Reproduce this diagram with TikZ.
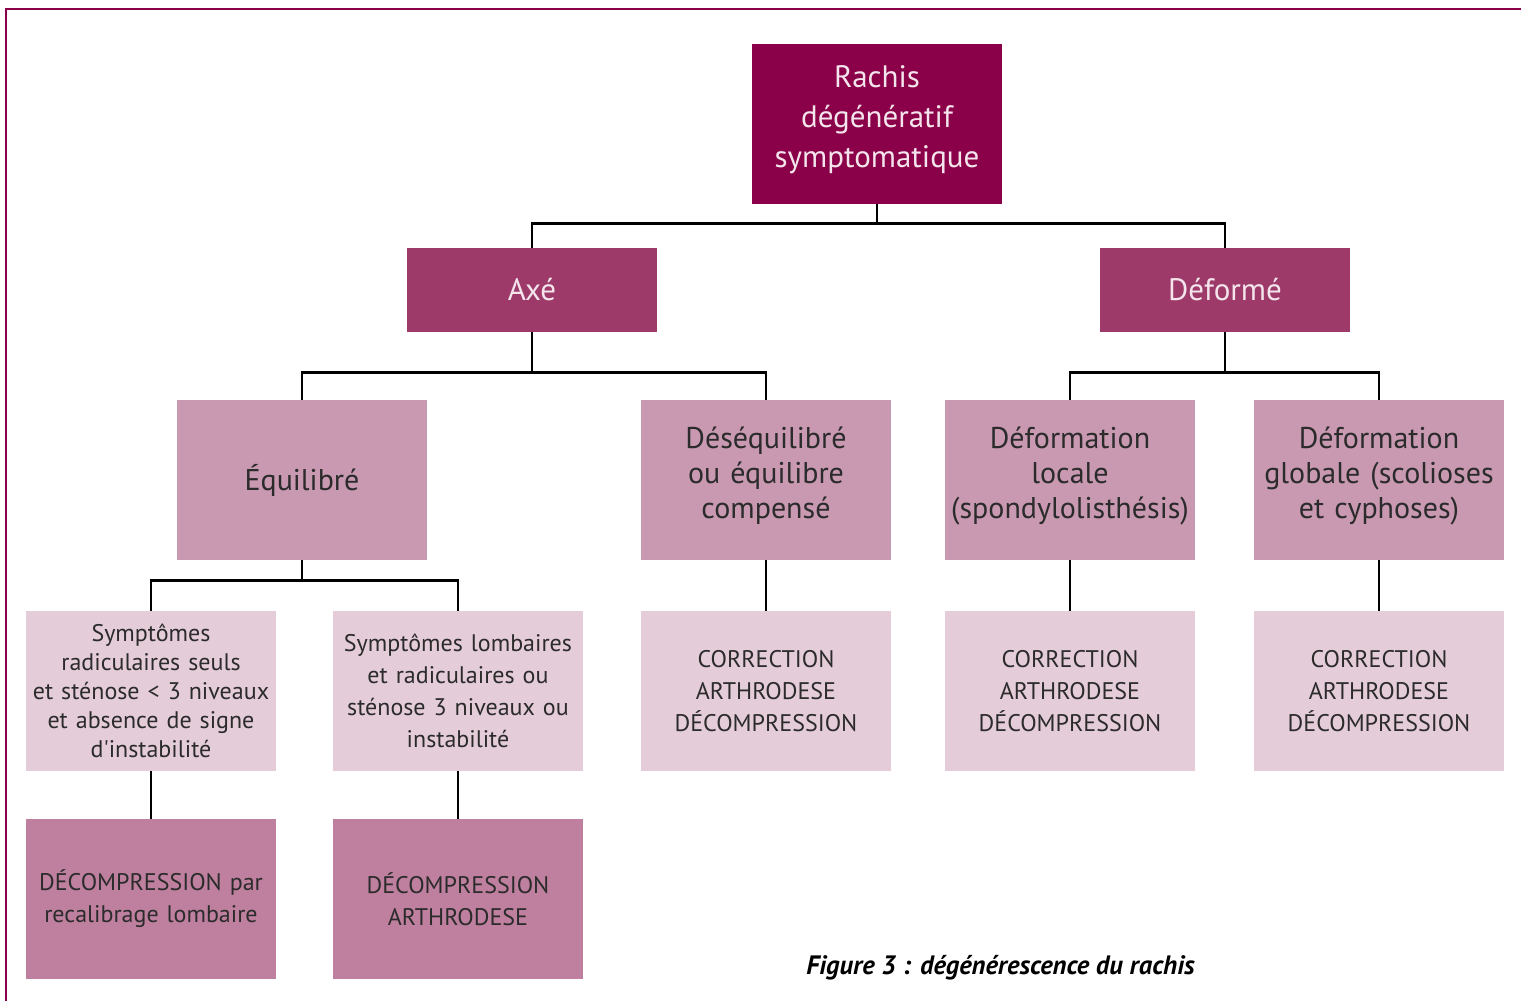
\documentclass[tikz,border=0pt]{standalone}
\usepackage{fontspec}
\setmainfont{PT Sans}
\usepackage{tikz}

\definecolor{rachis}{HTML}{8A0049}
\definecolor{niveau1}{HTML}{9E3A6A}
\definecolor{niveau2}{HTML}{C999B2}
\definecolor{niveau3}{HTML}{E5CCD9}
\definecolor{niveau4}{HTML}{BF809F}
\definecolor{clair}{HTML}{F4E4EC}
\definecolor{texte}{HTML}{2B2B2B}
\newcommand{\espacebas}{\par\vspace*{4pt}}

\begin{document}
\begin{tikzpicture}[x=0.5pt, y=-0.5pt, every node/.style={inner sep=2pt, align=center},
  boite/.style={minimum width=125pt, minimum height=80pt, text width=121pt},
  haut/.style={boite, execute at end node=\espacebas},
  lien/.style={line width=1.4pt, black}]
  \useasboundingbox (0,0) rectangle (1521,1001);
  \draw[rachis, line width=1.2pt] (1521,9) -- (6,9) -- (6,1001);

  \node[haut, fill=rachis, text=clair, font=\fontsize{15.5}{20}\selectfont] (root) at (877,124) {Rachis\\dégénératif\\symptomatique};
  \node[boite, minimum height=42pt, fill=niveau1, text=clair, font=\fontsize{15.5}{20}\selectfont] (axe) at (532,290) {Axé};
  \node[boite, minimum height=42pt, fill=niveau1, text=clair, font=\fontsize{15.5}{20}\selectfont] (deforme) at (1225,290) {Déformé};

  \node[boite, fill=niveau2, text=texte, font=\fontsize{15}{17.5}\selectfont] (equi) at (302,480) {Équilibré};
  \node[haut, fill=niveau2, text=texte, font=\fontsize{15}{17.5}\selectfont] (deseq) at (766,480) {Déséquilibré\\ou équilibre\\compensé};
  \node[haut, fill=niveau2, text=texte, font=\fontsize{15}{17.5}\selectfont] (locale) at (1070,480) {Déformation\\locale\\(spondylolisthésis)};
  \node[haut, fill=niveau2, text=texte, font=\fontsize{15}{17.5}\selectfont] (globale) at (1379,480) {Déformation\\globale (scolioses\\et cyphoses)};

  \node[boite, fill=niveau3, text=texte, font=\fontsize{12}{14.5}\selectfont] (sympt1) at (151,691) {Symptômes\\radiculaires seuls\\et sténose < 3 niveaux\\et absence de signe\\d\textquotesingle instabilité};
  \node[boite, fill=niveau3, text=texte, font=\fontsize{12}{16}\selectfont] (sympt2) at (458,691) {Symptômes lombaires\\et radiculaires ou\\sténose 3 niveaux ou\\instabilité};
  \node[boite, fill=niveau3, text=texte, font=\fontsize{12}{16}\selectfont] (corr1) at (766,691) {CORRECTION\\ARTHRODESE\\DÉCOMPRESSION};
  \node[boite, fill=niveau3, text=texte, font=\fontsize{12}{16}\selectfont] (corr2) at (1070,691) {CORRECTION\\ARTHRODESE\\DÉCOMPRESSION};
  \node[boite, fill=niveau3, text=texte, font=\fontsize{12}{16}\selectfont] (corr3) at (1379,691) {CORRECTION\\ARTHRODESE\\DÉCOMPRESSION};

  \node[boite, fill=niveau4, text=texte, font=\fontsize{12}{16}\selectfont] (decomp1) at (151,899) {DÉCOMPRESSION par\\recalibrage lombaire};
  \node[boite, fill=niveau4, text=texte, font=\fontsize{12}{16}\selectfont] (decomp2) at (458,899) {DÉCOMPRESSION\\ARTHRODESE};

  \node[font=\bfseries\itshape\fontsize{13.3}{15}\selectfont, anchor=east] (titre) at (1199,968) {Figure 3 : dégénérescence du rachis};

  \draw[lien] (root.south) -- ++(0,19) -| (axe.north);
  \draw[lien] (root.south) -- ++(0,19) -| (deforme.north);
  \draw[lien] (axe.south) -- ++(0,40) -| (equi.north);
  \draw[lien] (axe.south) -- ++(0,40) -| (deseq.north);
  \draw[lien] (deforme.south) -- ++(0,40) -| (locale.north);
  \draw[lien] (deforme.south) -- ++(0,40) -| (globale.north);
  \draw[lien] (equi.south) -- ++(0,20) -| (sympt1.north);
  \draw[lien] (equi.south) -- ++(0,20) -| (sympt2.north);
  \draw[lien] (deseq) -- (corr1);
  \draw[lien] (locale) -- (corr2);
  \draw[lien] (globale) -- (corr3);
  \draw[lien] (sympt1) -- (decomp1);
  \draw[lien] (sympt2) -- (decomp2);
\end{tikzpicture}
\end{document}
